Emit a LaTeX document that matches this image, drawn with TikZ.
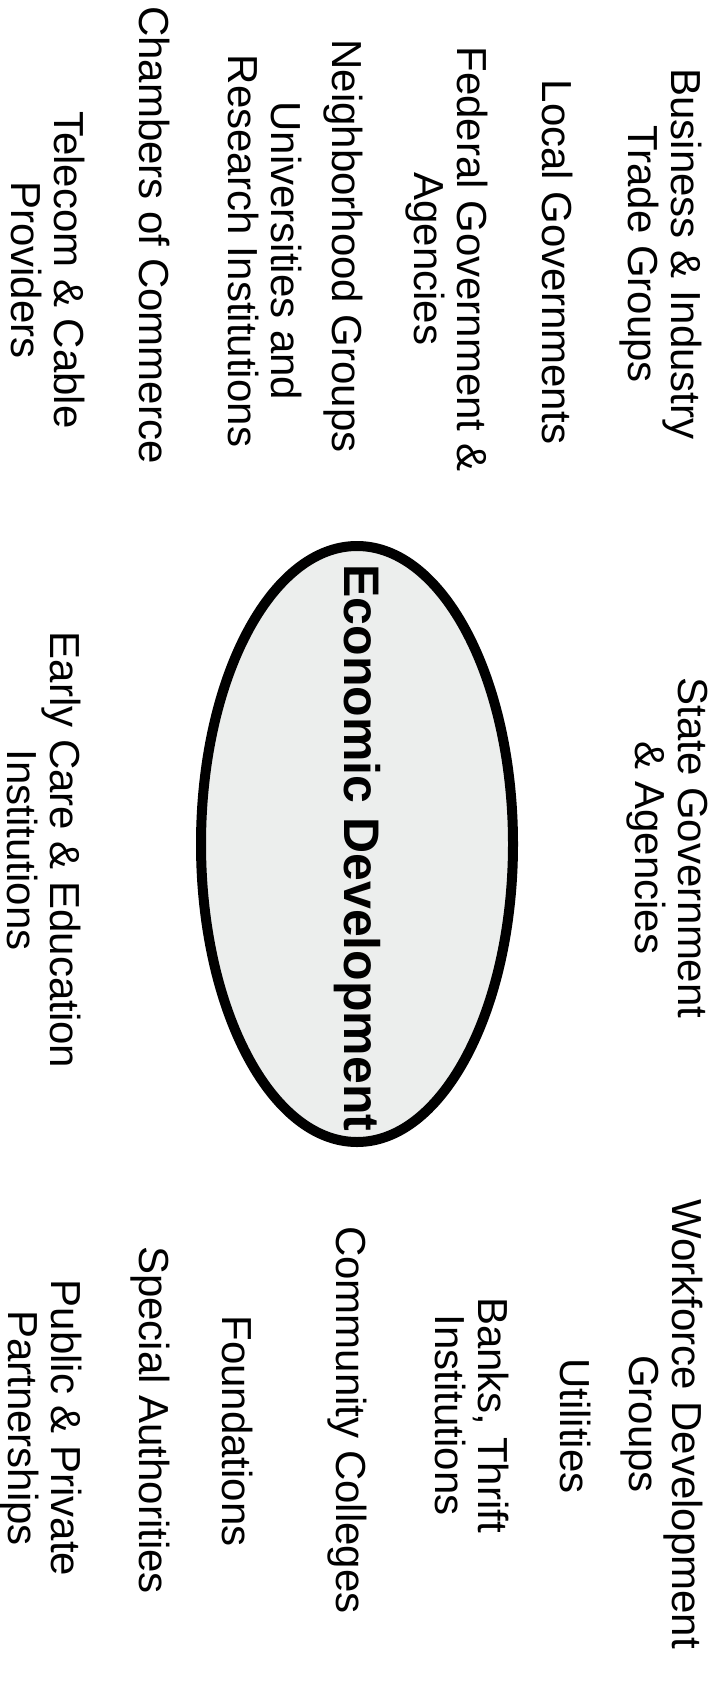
\documentclass[tikz,border=0pt]{standalone}
\usepackage{fontspec}
\setmainfont{Liberation Sans}
\definecolor{ovalfill}{RGB}{236,238,237}
\tikzset{
  member/.style={rotate=-90, align=center, inner sep=0.75pt, font=\fontsize{21}{21.5}\selectfont},
  hub/.style={rotate=-90, inner sep=0.75pt, font=\fontsize{25}{30}\selectfont\bfseries}
}
\begin{document}
\begin{tikzpicture}[x=0.5pt,y=0.5pt,yscale=-1,xscale=1]
\useasboundingbox (0,0) rectangle (710,1690);

%Shape: Ellipse
\draw [line width=5pt, fill=ovalfill] (357,844) ellipse (156 and 298);

% Text Node
\draw (357,848) node [hub] (econ) {Economic Development};

% Text Node
\draw (661,254) node [member] (business) {Business \& Industry\\Trade Groups};
% Text Node
\draw (558,262) node [member] (localgov) {Local Governments};
% Text Node
\draw (447,259) node [member] (federal) {Federal Government \&\\Agencies};
% Text Node
\draw (343,246) node [member] (neighbor) {Neighborhood Groups};
% Text Node
\draw (265,251) node [member] (univ) {Universities and\\Research Institutions};
% Text Node
\draw (155,235) node [member] (chambers) {Chambers of Commerce};
% Text Node
\draw (48,270) node [member] (telecom) {Telecom \& Cable\\Providers};

% Text Node
\draw (667,848) node [member] (state) {State Government\\\& Agencies};
% Text Node
\draw (44,850) node [member] (earlycare) {Early Care \& Education\\Institutions};

% Text Node
\draw (662,1424) node [member] (workforce) {Workforce Development\\Groups};
% Text Node
\draw (576,1426) node [member] (utilities) {Utilities};
% Text Node
\draw (472,1415) node [member] (banks) {Banks, Thrift\\Institutions};
% Text Node
\draw (347,1420) node [member] (colleges) {Community Colleges};
% Text Node
\draw (238,1431) node [member] (found) {Foundations};
% Text Node
\draw (150,1420) node [member] (special) {Special Authorities};
% Text Node
\draw (41,1428) node [member] (partners) {Public \& Private\\Partnerships};

\end{tikzpicture}
\end{document}
